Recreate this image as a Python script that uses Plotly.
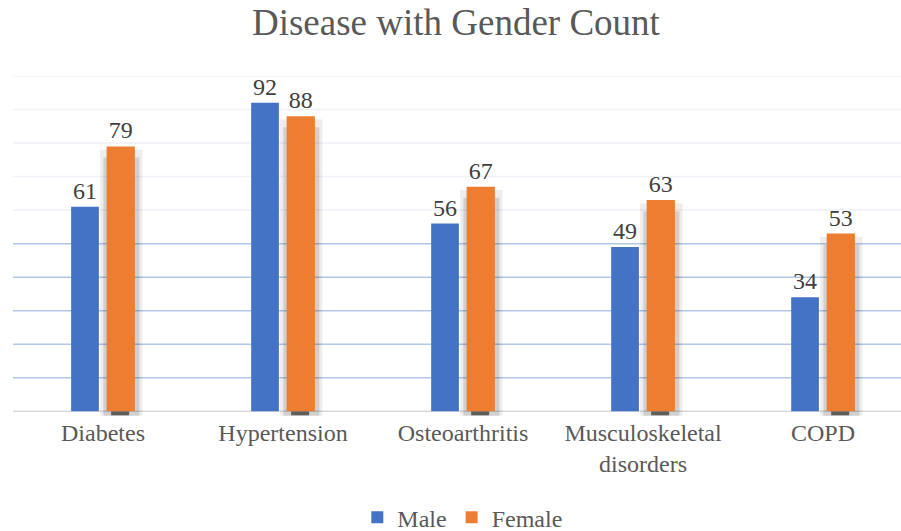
import plotly.graph_objects as go

categories = ["Diabetes", "Hypertension", "Osteoarthritis", "Musculoskeletal<br>disorders", "COPD"]
male = [61, 92, 56, 49, 34]
female = [79, 88, 67, 63, 53]
strong_grid = [10, 20, 30, 40, 50]
faint_grid = [60, 70, 80, 90, 100]

FONT = "Tinos, 'Liberation Serif', 'Times New Roman', serif"
BLUE = "#4472C4"
ORANGE = "#ED7D31"

fig = go.Figure()

# soft shadow behind the female bars
fig.add_trace(go.Bar(x=categories, y=[v + 0.3 for v in female], base=[-1.3] * len(female),
                     offset=-0.016, width=0.235, marker=dict(color="rgba(0,0,0,0.07)", line_width=0),
                     hoverinfo="skip", showlegend=False))
fig.add_trace(go.Bar(x=categories, y=[v - 2.0 for v in female], base=[-1.3] * len(female),
                     offset=0.002, width=0.2, marker=dict(color="rgba(0,0,0,0.12)", line_width=0),
                     hoverinfo="skip", showlegend=False))
fig.add_trace(go.Bar(x=categories, y=[1.2] * len(female), base=[-1.2] * len(female),
                     offset=0.045, width=0.1, marker=dict(color="rgba(0,0,0,0.55)", line_width=0),
                     hoverinfo="skip", showlegend=False))

fig.add_trace(go.Bar(name="Male", x=categories, y=male, offset=-0.177, width=0.154,
                     marker=dict(color=BLUE, line_width=0),
                     text=male, textposition="outside", cliponaxis=False,
                     textfont=dict(family=FONT, size=24, color="#404040")))
fig.add_trace(go.Bar(name="Female", x=categories, y=female, offset=0.02, width=0.157,
                     marker=dict(color=ORANGE, line_width=0),
                     text=female, textposition="outside", cliponaxis=False,
                     textfont=dict(family=FONT, size=24, color="#404040")))

shapes = []
for g in strong_grid:
    shapes.append(dict(type="line", xref="paper", x0=0, x1=1, yref="y", y0=g, y1=g,
                       line=dict(color="#B4C7E7", width=1.5), layer="below"))
for g in faint_grid:
    shapes.append(dict(type="line", xref="paper", x0=0, x1=1, yref="y", y0=g, y1=g,
                       line=dict(color="#EEF1F8", width=1.5), layer="below"))
shapes.append(dict(type="line", xref="paper", x0=0, x1=1, yref="y", y0=0, y1=0,
                   line=dict(color="#D9D9D9", width=1.5), layer="below"))

fig.update_layout(
    width=901, height=531,
    margin=dict(l=13, r=0, t=76, b=115, autoexpand=False),
    paper_bgcolor="white", plot_bgcolor="white",
    barmode="overlay",
    shapes=shapes,
    title=dict(text="Disease with Gender Count", x=0.506, xanchor="center",
               yref="container", y=0.958, yanchor="middle",
               font=dict(family=FONT, size=37, color="#595959")),
    xaxis=dict(range=[-0.5, 4.433], showgrid=False, showline=False, ticks="",
               tickfont=dict(family=FONT, size=24, color="#595959")),
    yaxis=dict(range=[-1.4, 100], showgrid=False, zeroline=False, showticklabels=False, ticks=""),
    legend=dict(orientation="h", x=0.506, xanchor="center",
                yref="container", y=0.025, yanchor="middle",
                font=dict(family=FONT, size=24, color="#595959"),
                traceorder="normal"),
    showlegend=True,
)

post = (
    "document.body.style.margin='0';"
    "var st=document.createElement('style');"
    "st.textContent=\"svg text{font-family:Tinos,'Liberation Serif','Times New Roman',serif !important;}\";"
    "document.head.appendChild(st);"
)

fig.write_html("out.html", config={"displayModeBar": False}, post_script=post)
